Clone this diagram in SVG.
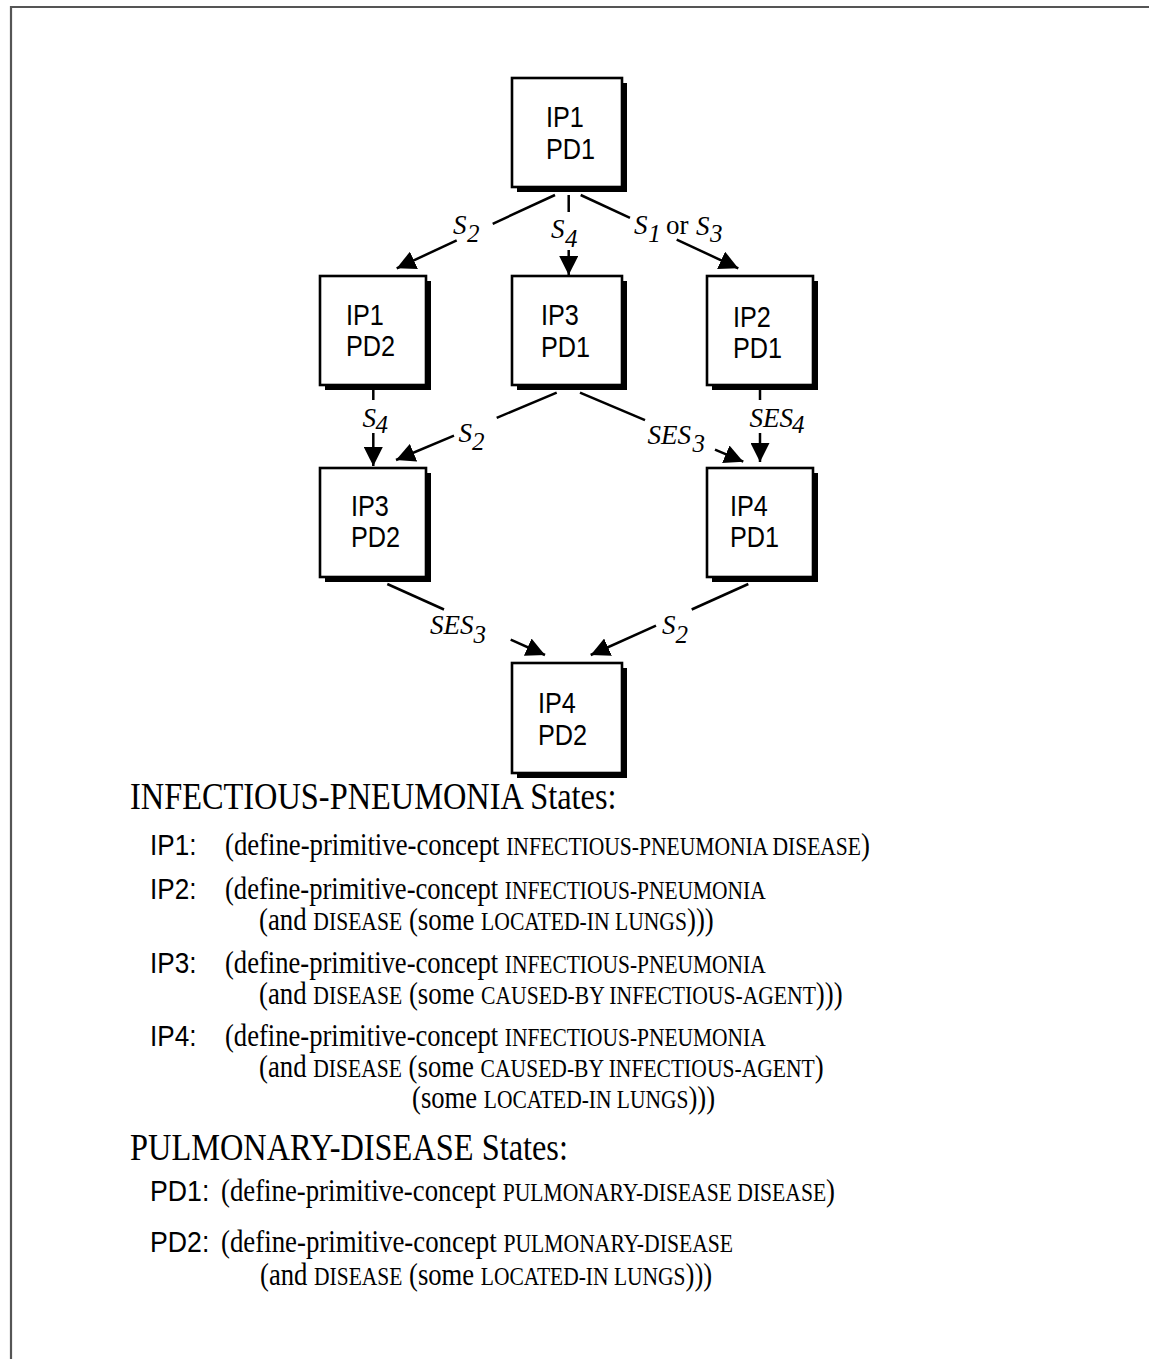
<svg xmlns="http://www.w3.org/2000/svg" width="1149" height="1359" viewBox="0 0 1149 1359">
<style>
.frame{fill:none;stroke:#555;stroke-width:2.2}
.box{fill:#fff;stroke:#000;stroke-width:2.6}
.shadow{fill:#000}
.nt{font-family:"Liberation Sans",Arial,sans-serif;font-size:29px;fill:#000}
.edge{stroke:#000;stroke-width:2.5;fill:none}
.arr{marker-end:url(#ah)}
.el{font-family:"Liberation Serif","Times New Roman",serif;font-style:italic;font-size:27px;fill:#000}
.sub{font-size:25px}
.up{font-style:normal}
.title{font-family:"Liberation Serif","Times New Roman",serif;font-size:38px;fill:#000}
.lbl{font-family:"Liberation Sans",Arial,sans-serif;font-size:29px;fill:#000}
.def{font-family:"Liberation Serif","Times New Roman",serif;font-size:31px;fill:#000}
.sc{font-size:25px}
</style>
<defs>
<marker id="ah" markerUnits="userSpaceOnUse" viewBox="0 0 19 19" markerWidth="19" markerHeight="19" refX="19" refY="9.5" orient="auto">
<path d="M0,0 L19,9.5 L0,19 z" fill="#000"/>
</marker>
</defs>
<rect width="1149" height="1359" fill="#fff"/>
<path class="frame" d="M11,1359 V7 H1149"/>

<g id="connectors">
<line class="edge" x1="555" y1="195" x2="492.7" y2="223.8"/>
<line class="edge arr" x1="456.7" y1="240.4" x2="396.7" y2="268.3"/>
<line class="edge" x1="568.7" y1="195" x2="568.7" y2="212"/>
<line class="edge arr" x1="568.7" y1="250" x2="568.7" y2="275"/>
<line class="edge" x1="580.7" y1="195" x2="630" y2="217.9"/>
<line class="edge arr" x1="676.7" y1="239.6" x2="738.3" y2="268.3"/>
<line class="edge" x1="373.3" y1="390" x2="373.3" y2="400"/>
<line class="edge arr" x1="373.3" y1="433" x2="373.3" y2="466"/>
<line class="edge" x1="556.7" y1="392.7" x2="496.7" y2="417.8"/>
<line class="edge arr" x1="454" y1="435.7" x2="396" y2="460"/>
<line class="edge" x1="580" y1="392.7" x2="645" y2="420.2"/>
<line class="edge arr" x1="715" y1="449.7" x2="743.3" y2="461.7"/>
<line class="edge" x1="760" y1="390" x2="760" y2="400"/>
<line class="edge arr" x1="760" y1="433" x2="760" y2="462"/>
<line class="edge" x1="387.3" y1="584" x2="444" y2="609.5"/>
<line class="edge arr" x1="510.7" y1="639.6" x2="545" y2="655"/>
<line class="edge" x1="748.3" y1="584" x2="691.7" y2="609.5"/>
<line class="edge arr" x1="656" y1="625.6" x2="590.7" y2="655"/>

<text class="el" x="453" y="234">S</text><text class="el sub" x="467" y="241.7">2</text>
<text class="el" x="551" y="238.3">S</text><text class="el sub" x="565" y="246.7">4</text>
<text class="el" x="634" y="234">S</text><text class="el sub" x="648.3" y="241.7">1</text>
<text class="el up" x="666" y="234">or</text>
<text class="el" x="696" y="235">S</text><text class="el sub" x="710" y="241.7">3</text>
<text class="el" x="362.5" y="426.7">S</text><text class="el sub" x="375.5" y="433.3">4</text>
<text class="el" x="458.5" y="441.7">S</text><text class="el sub" x="472" y="450">2</text>
<text class="el" x="647.5" y="444">SES</text><text class="el sub" x="692.5" y="451.7">3</text>
<text class="el" x="749.5" y="426.7">SES</text><text class="el sub" x="792" y="433.3">4</text>
<text class="el" x="430" y="634">SES</text><text class="el sub" x="473.5" y="643.3">3</text>
<text class="el" x="662" y="634">S</text><text class="el sub" x="675.5" y="643.3">2</text>
</g>

<g id="n_ip1pd1">
<rect class="shadow" x="517" y="83" width="110" height="109"/>
<rect class="box" x="512" y="78" width="110" height="109"/>
<text class="nt" transform="translate(546,126.7) scale(0.87,1)">IP1</text>
<text class="nt" transform="translate(546,159.3) scale(0.87,1)">PD1</text>
</g>
<g id="n_ip1pd2">
<rect class="shadow" x="325" y="281" width="106" height="109"/>
<rect class="box" x="320" y="276" width="106" height="109"/>
<text class="nt" transform="translate(346,325) scale(0.87,1)">IP1</text>
<text class="nt" transform="translate(346,356) scale(0.87,1)">PD2</text>
</g>
<g id="n_ip3pd1">
<rect class="shadow" x="517" y="281" width="110" height="109"/>
<rect class="box" x="512" y="276" width="110" height="109"/>
<text class="nt" transform="translate(541,325) scale(0.87,1)">IP3</text>
<text class="nt" transform="translate(541,357) scale(0.87,1)">PD1</text>
</g>
<g id="n_ip2pd1">
<rect class="shadow" x="712" y="281" width="106" height="109"/>
<rect class="box" x="707" y="276" width="106" height="109"/>
<text class="nt" transform="translate(733,326.7) scale(0.87,1)">IP2</text>
<text class="nt" transform="translate(733,358) scale(0.87,1)">PD1</text>
</g>
<g id="n_ip3pd2">
<rect class="shadow" x="325" y="473" width="106" height="109"/>
<rect class="box" x="320" y="468" width="106" height="109"/>
<text class="nt" transform="translate(351,516) scale(0.87,1)">IP3</text>
<text class="nt" transform="translate(351,547.3) scale(0.87,1)">PD2</text>
</g>
<g id="n_ip4pd1">
<rect class="shadow" x="712" y="473" width="106" height="109"/>
<rect class="box" x="707" y="468" width="106" height="109"/>
<text class="nt" transform="translate(730,516) scale(0.87,1)">IP4</text>
<text class="nt" transform="translate(730,547) scale(0.87,1)">PD1</text>
</g>
<g id="n_ip4pd2">
<rect class="shadow" x="517" y="668" width="110" height="110"/>
<rect class="box" x="512" y="663" width="110" height="110"/>
<text class="nt" transform="translate(538,713.3) scale(0.87,1)">IP4</text>
<text class="nt" transform="translate(538,745) scale(0.87,1)">PD2</text>
</g>

<g id="legend">
<text class="title" transform="translate(130,809) scale(0.852,1)">INFECTIOUS-PNEUMONIA States:</text>
<text class="lbl" transform="translate(150,855) scale(0.9,1)">IP1:</text>
<text class="def" transform="translate(225,855) scale(0.862,1)">(define-primitive-concept <tspan class="sc">INFECTIOUS-PNEUMONIA DISEASE</tspan>)</text>
<text class="lbl" transform="translate(150,899) scale(0.9,1)">IP2:</text>
<text class="def" transform="translate(225,899) scale(0.858,1)">(define-primitive-concept <tspan class="sc">INFECTIOUS-PNEUMONIA</tspan></text>
<text class="def" transform="translate(259,930) scale(0.865,1)">(and <tspan class="sc">DISEASE</tspan> (some <tspan class="sc">LOCATED-IN LUNGS</tspan>)))</text>
<text class="lbl" transform="translate(150,973) scale(0.9,1)">IP3:</text>
<text class="def" transform="translate(225,973) scale(0.858,1)">(define-primitive-concept <tspan class="sc">INFECTIOUS-PNEUMONIA</tspan></text>
<text class="def" transform="translate(259,1004) scale(0.865,1)">(and <tspan class="sc">DISEASE</tspan> (some <tspan class="sc">CAUSED-BY INFECTIOUS-AGENT</tspan>)))</text>
<text class="lbl" transform="translate(150,1046) scale(0.9,1)">IP4:</text>
<text class="def" transform="translate(225,1046) scale(0.858,1)">(define-primitive-concept <tspan class="sc">INFECTIOUS-PNEUMONIA</tspan></text>
<text class="def" transform="translate(259,1077) scale(0.863,1)">(and <tspan class="sc">DISEASE</tspan> (some <tspan class="sc">CAUSED-BY INFECTIOUS-AGENT</tspan>)</text>
<text class="def" transform="translate(412,1108) scale(0.86,1)">(some <tspan class="sc">LOCATED-IN LUNGS</tspan>)))</text>
<text class="title" transform="translate(130,1160) scale(0.852,1)">PULMONARY-DISEASE States:</text>
<text class="lbl" transform="translate(150,1201) scale(0.92,1)">PD1:</text>
<text class="def" transform="translate(221,1201) scale(0.864,1)">(define-primitive-concept <tspan class="sc">PULMONARY-DISEASE DISEASE</tspan>)</text>
<text class="lbl" transform="translate(150,1252) scale(0.92,1)">PD2:</text>
<text class="def" transform="translate(221,1252) scale(0.866,1)">(define-primitive-concept <tspan class="sc">PULMONARY-DISEASE</tspan></text>
<text class="def" transform="translate(260,1285) scale(0.86,1)">(and <tspan class="sc">DISEASE</tspan> (some <tspan class="sc">LOCATED-IN LUNGS</tspan>)))</text>
</g>
</svg>
